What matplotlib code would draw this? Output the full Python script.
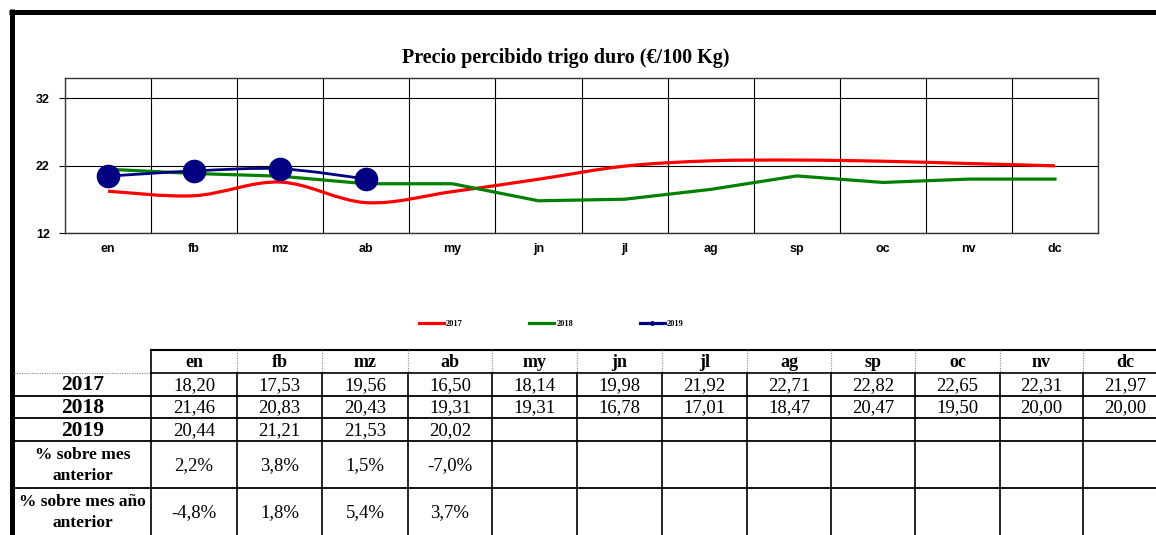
import numpy as np
import matplotlib.pyplot as plt
from matplotlib.path import Path
from matplotlib.patches import PathPatch
from matplotlib.lines import Line2D

months = ['en', 'fb', 'mz', 'ab', 'my', 'jn', 'jl', 'ag', 'sp', 'oc', 'nv', 'dc']
p2017 = [18.20, 17.53, 19.56, 16.50, 18.14, 19.98, 21.92, 22.71, 22.82, 22.65, 22.31, 21.97]
p2018 = [21.46, 20.83, 20.43, 19.31, 19.31, 16.78, 17.01, 18.47, 20.47, 19.50, 20.00, 20.00]
p2019 = [20.44, 21.21, 21.53, 20.02]
years = ['2017', '2018', '2019']
yticks = [12, 22, 32]
pct_prev = ['2,2%', '3,8%', '1,5%', '-7,0%']
pct_year = ['-4,8%', '1,8%', '5,4%', '3,7%']
title = 'Precio percibido trigo duro (€/100 Kg)'

RED, GREEN, NAVY = '#FF0000', '#008000', '#000080'
SERIF = 'Liberation Serif'
SANS = 'Liberation Sans'

W, H = 1156, 535


def fmt(v):
    return f"{v:.2f}".replace('.', ',')


def smooth_path(x, y):
    """Excel-like smoothed line: Catmull-Rom segments as cubic beziers."""
    x = np.asarray(x, float)
    y = np.asarray(y, float)
    n = len(x)
    verts = [(x[0], y[0])]
    codes = [Path.MOVETO]
    for i in range(n - 1):
        xa, ya = (x[i - 1], y[i - 1]) if i > 0 else (x[i], y[i])
        xb, yb = (x[i + 2], y[i + 2]) if i + 2 < n else (x[i + 1], y[i + 1])
        c1 = (x[i] + (x[i + 1] - xa) / 6, y[i] + (y[i + 1] - ya) / 6)
        c2 = (x[i + 1] - (xb - x[i]) / 6, y[i + 1] - (yb - y[i]) / 6)
        verts += [c1, c2, (x[i + 1], y[i + 1])]
        codes += [Path.CURVE4] * 3
    return Path(verts, codes)


fig = plt.figure(figsize=(W / 100, H / 100), dpi=100)
fig.patch.set_facecolor('white')

# ---- line chart ----
ax = fig.add_axes([65 / W, 1 - 233 / H, 1033 / W, 155 / H])
x = np.arange(len(months))
ax.add_patch(PathPatch(smooth_path(x, p2017), fc='none', ec=RED, lw=2.3, zorder=3))
ax.plot(x, p2018, color=GREEN, lw=2.3, zorder=4)
ax.add_patch(PathPatch(smooth_path(x[:len(p2019)], p2019), fc='none', ec=NAVY, lw=2.0, zorder=5))
ax.plot(x[:len(p2019)], p2019, ls='none', marker='o', ms=16, color=NAVY, zorder=6)

tick_font = dict(fontfamily=SANS, fontweight='bold', fontsize=9)
ax.set_xlim(-0.5, len(months) - 0.5)
ax.set_ylim(12, 35)
ax.set_yticks(yticks, labels=[str(t) for t in yticks], **tick_font)
ax.set_xticks(x, labels=months, **tick_font)
ax.set_xticks(x[:-1] + 0.5, minor=True)
ax.grid(True, axis='y', which='major', color='black', lw=0.8)
ax.grid(True, axis='x', which='minor', color='black', lw=0.8)
ax.tick_params(axis='x', which='both', length=0, pad=7)
ax.tick_params(axis='y', length=4, width=0.8, pad=7)
for sp in ax.spines.values():
    sp.set_color('#333333')
    sp.set_linewidth(1.0)

fig.text(566 / W, 1 - 58 / H, title, ha='center', va='center',
         fontfamily=SERIF, fontweight='bold', fontsize=14.5)

handles = [Line2D([], [], color=RED, lw=2.3),
           Line2D([], [], color=GREEN, lw=2.3),
           Line2D([], [], color=NAVY, lw=2.3, marker='o', ms=2.5)]
fig.legend(handles, years, loc='center', bbox_to_anchor=(551 / W, 1 - 324 / H),
           ncol=3, frameon=False, handlelength=3.0, handletextpad=0.25,
           columnspacing=8.0,
           prop=dict(family=SERIF, weight='bold', size=6))

# ---- data table under the chart (pixel coordinates) ----
tab = fig.add_axes([0, 0, 1, 1])
tab.set_xlim(0, W)
tab.set_ylim(H, 0)
tab.axis('off')

col_edges = [151, 237, 322, 408, 492, 577, 662, 747, 831, 915, 1000, 1083, 1167]
row_edges = [350, 373, 396, 418, 441, 488, 535]
lab_left = 14

# outer frame
tab.plot([9, W], [11.7, 11.7], color='black', lw=3.6, solid_capstyle='butt')
tab.plot([11.7, 11.7], [9, H], color='black', lw=3.6, solid_capstyle='butt')

# header row
tab.plot([col_edges[0], W], [row_edges[0]] * 2, color='black', lw=1.5)
tab.plot([col_edges[0]] * 2, row_edges[:2], color='black', lw=1.2)
for cx in col_edges[1:]:
    tab.plot([cx, cx], row_edges[:2], color='#999999', lw=0.9, ls=(0, (1, 1)))
tab.plot([lab_left, col_edges[0]], [row_edges[1]] * 2, color='#999999', lw=0.9, ls=(0, (1, 1)))
tab.plot([col_edges[0], W], [row_edges[1]] * 2, color='black', lw=1.2)
for ry in row_edges[2:-1]:
    tab.plot([lab_left, W], [ry, ry], color='black', lw=1.3)
for cx in col_edges:
    tab.plot([cx, cx], [row_edges[1], H], color='black', lw=1.2)

centers = [(a + b) / 2 for a, b in zip(col_edges[:-1], col_edges[1:])]
lab_cx = (lab_left + col_edges[0]) / 2


def row_mid(i):
    return (row_edges[i] + row_edges[i + 1]) / 2


for cx, m in zip(centers, months):
    tab.text(cx, row_mid(0) + 1, m, ha='center', va='center',
             fontfamily=SERIF, fontweight='bold', fontsize=13)

rows = [p2017, p2018, p2019]
for r, (yr, vals) in enumerate(zip(years, rows), start=1):
    tab.text(lab_cx, row_mid(r) + 1, yr, ha='center', va='center',
             fontfamily=SERIF, fontweight='bold', fontsize=15.5)
    for cx, v in zip(centers, vals):
        tab.text(cx, row_mid(r) + 1, fmt(v), ha='center', va='center',
                 fontfamily=SERIF, fontsize=13.5)

pct_rows = [('% sobre mes\nanterior', pct_prev), ('% sobre mes año\nanterior', pct_year)]
for r, (lab, vals) in enumerate(pct_rows, start=4):
    tab.text(lab_cx, row_mid(r) + 1, lab, ha='center', va='center',
             fontfamily=SERIF, fontweight='bold', fontsize=12.5, linespacing=1.45)
    for cx, v in zip(centers, vals):
        tab.text(cx, row_mid(r) + 1, v, ha='center', va='center',
                 fontfamily=SERIF, fontsize=13.5)

fig.savefig('out.png', dpi=100)
